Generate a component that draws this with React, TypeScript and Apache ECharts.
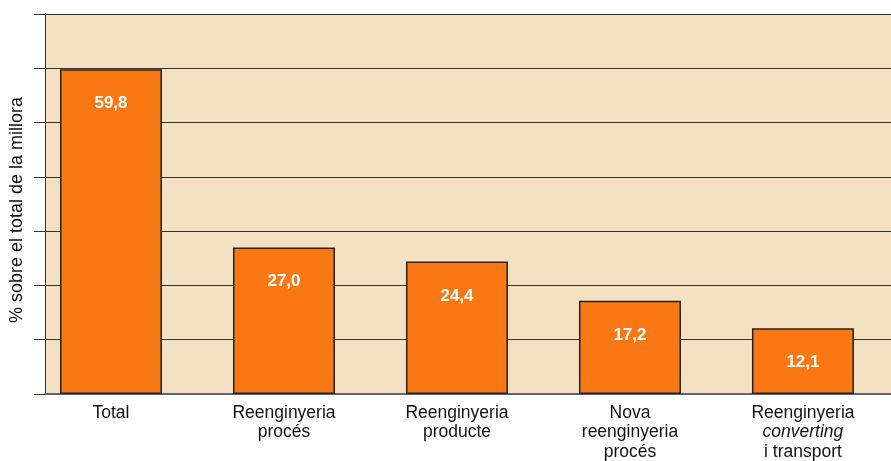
import React, { useEffect, useRef } from "react";
import * as echarts from "echarts";

const categories = [
  "Total",
  "Reenginyeria\nprocés",
  "Reenginyeria\nproducte",
  "Nova\nreenginyeria\nprocés",
  "Reenginyeria\n{i|converting}\ni transport",
];
const values = [59.8, 27.0, 24.4, 17.2, 12.1];
const yTicks = [0, 10, 20, 30, 40, 50, 60, 70];
const yName = "% sobre el total de la millora";

export default function App() {
  const ref = useRef<HTMLDivElement>(null);
  useEffect(() => {
    if (!ref.current) return;
    const chart = echarts.init(ref.current, null, { renderer: "svg" });
    const positions = categories.map((_, i) => i);
    chart.setOption({
      animation: false,
      textStyle: { fontFamily: "Liberation Sans, Arial, sans-serif" },
      grid: {
        left: 45,
        right: 0,
        top: 14,
        bottom: 67,
        show: true,
        backgroundColor: "#F4E1C2",
        borderWidth: 0,
        containLabel: false,
        outerBoundsMode: "none",
      },
      xAxis: {
        type: "value",
        min: -0.3815,
        max: 4.509,
        splitLine: { show: false },
        axisTick: { show: false },
        axisLine: { show: true, onZero: false, lineStyle: { color: "#666", width: 2 } },
        axisLabel: {
          customValues: positions,
          formatter: (v: number) => categories[Math.round(v)] ?? "",
          color: "#111",
          fontSize: 17.5,
          lineHeight: 19.5,
          margin: 8,
          rich: {
            i: { fontStyle: "italic", fontSize: 17.5, lineHeight: 19.5, color: "#111" },
          },
        },
      },
      yAxis: {
        type: "value",
        min: yTicks[0],
        max: yTicks[yTicks.length - 1],
        interval: 10,
        name: yName,
        nameLocation: "middle",
        nameGap: 20,
        nameTextStyle: { fontSize: 18, color: "#111", padding: [0, 12, 0, 0] },
        axisLine: { show: true, onZero: false, lineStyle: { color: "#333", width: 1 } },
        axisTick: { show: true, length: 11, lineStyle: { color: "#333" } },
        axisLabel: { show: false },
        splitLine: { show: true, lineStyle: { color: "#333", width: 1 } },
      },
      series: [
        {
          type: "bar",
          barWidth: 102,
          data: values.map((v, i) => [positions[i], v]),
          itemStyle: { color: "#FA7814", borderColor: "#222", borderWidth: 1.5 },
          label: {
            show: true,
            position: "insideTop",
            distance: 25,
            color: "#fff",
            fontWeight: "bold",
            fontSize: 17,
            formatter: (p: any) => p.value[1].toFixed(1).replace(".", ","),
          },
        },
      ],
    });
    return () => chart.dispose();
  }, []);
  return (
    <div
      ref={ref}
      style={{ position: "fixed", left: 0, top: 0, width: 891, height: 461 }}
    />
  );
}
